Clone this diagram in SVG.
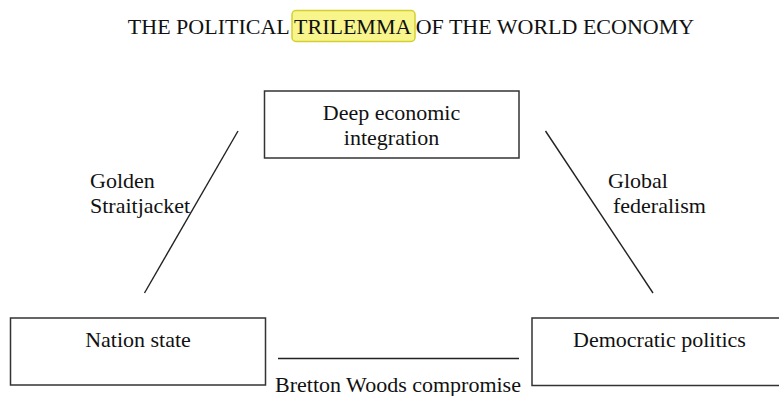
<svg xmlns="http://www.w3.org/2000/svg" width="779" height="396" viewBox="0 0 779 396">
<style>
.t{font-family:'Liberation Serif',serif;font-size:22px;fill:#111}
.box{fill:#fff;stroke:#333;stroke-width:1.5}
.c{text-anchor:middle}
.ln{stroke:#222;stroke-width:1.4;fill:none}
</style>
<rect width="779" height="396" fill="#fff"/>
<g id="title">
<rect x="292" y="10.5" width="123" height="31" rx="4" fill="#f8f58c" stroke="#d2d030" stroke-width="1.5"/>
<text x="411" y="34" class="t c" font-family="Liberation Serif, serif">THE POLITICAL TRILEMMA OF THE WORLD ECONOMY</text>
</g>
<g id="connectors">
<line class="ln" x1="238" y1="131" x2="144.5" y2="293"/>
<line class="ln" x1="545.5" y1="131" x2="653" y2="293"/>
<line class="ln" x1="278" y1="358.5" x2="519" y2="358.5"/>
<text x="90" y="188" class="t">Golden</text>
<text x="90" y="213" class="t">Straitjacket</text>
<text x="608" y="188" class="t">Global</text>
<text x="613" y="213" class="t">federalism</text>
<text x="398" y="392" class="t c">Bretton Woods compromise</text>
</g>
<g id="deep">
<rect class="box" x="264.5" y="91" width="254.5" height="67"/>
<text x="391.5" y="120" class="t c">Deep economic</text>
<text x="391.5" y="145" class="t c">integration</text>
</g>
<g id="nation">
<rect class="box" x="10.5" y="318" width="255" height="67"/>
<text x="138" y="347" class="t c">Nation state</text>
</g>
<g id="democratic">
<rect class="box" x="532" y="318" width="260" height="67.5"/>
<text x="659.5" y="347" class="t c">Democratic politics</text>
</g>
</svg>
